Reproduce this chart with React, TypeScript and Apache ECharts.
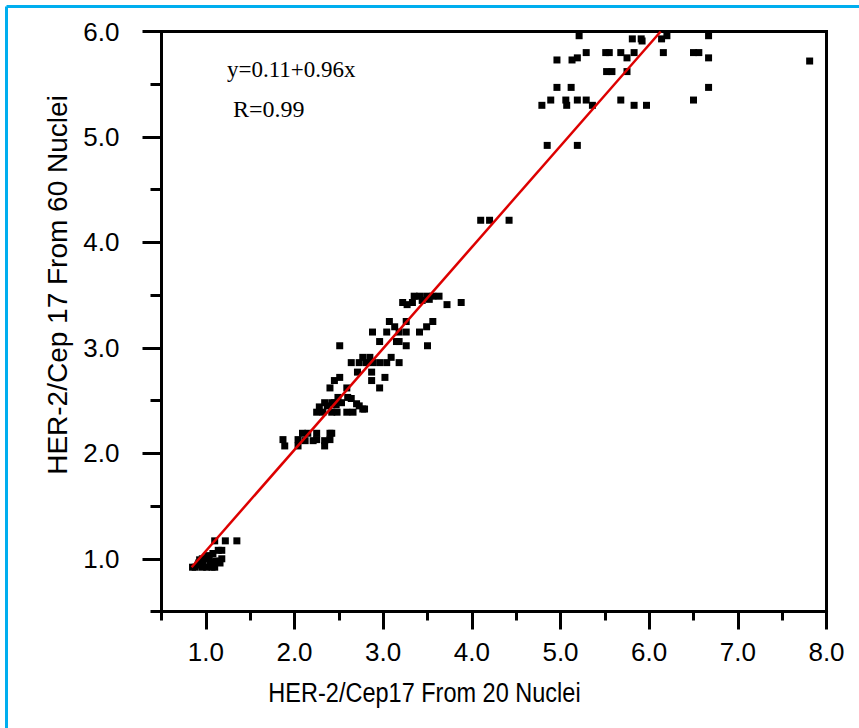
import React, { useEffect, useRef } from "react";
import * as echarts from "echarts";

// Axis tick values
const xMajorTicks = [1, 2, 3, 4, 5, 6, 7, 8];
const xMinorTicks = [0.5, 1.5, 2.5, 3.5, 4.5, 5.5, 6.5, 7.5];
const yMajorTicks = [1, 2, 3, 4, 5, 6];
const yMinorTicks = [0.5, 1.5, 2.5, 3.5, 4.5, 5.5];

// Axis titles and annotation
const xTitle = "HER-2/Cep17 From 20 Nuclei";
const yTitle = "HER-2/Cep 17 From 60 Nuclei";
const fitEquation = "y=0.11+0.96x";
const fitR = "R=0.99";

// Data points [ratio from 20 nuclei, ratio from 60 nuclei]
const clusterLow = [
  [0.85, 0.92], [0.88, 0.92], [0.91, 0.94], [0.92, 0.96], [0.96, 0.92], [0.97, 0.96],
  [0.96, 1.0], [1.01, 0.92], [1.01, 1.0], [1.02, 1.03], [1.05, 0.97], [1.07, 0.92],
  [1.08, 1.05], [1.1, 0.92], [1.12, 0.98], [1.14, 1.08], [1.16, 0.96], [1.18, 1.08],
  [1.18, 1.0], [1.1, 1.17], [1.22, 1.17], [1.35, 1.17], [0.93, 0.99], [1.04, 1.01],
];

const clusterMid = [
  [1.87, 2.13], [1.89, 2.07], [2.04, 2.13], [2.04, 2.07], [2.09, 2.19], [2.12, 2.12],
  [2.15, 2.19], [2.21, 2.12], [2.25, 2.19], [2.25, 2.13], [2.34, 2.12], [2.34, 2.07],
  [2.4, 2.19], [2.4, 2.13], [2.42, 2.19],
  [2.25, 2.39], [2.32, 2.39], [2.42, 2.39], [2.48, 2.39], [2.59, 2.39], [2.66, 2.39],
  [2.77, 2.42], [2.79, 2.42], [2.28, 2.44], [2.34, 2.48], [2.37, 2.45], [2.42, 2.48],
  [2.45, 2.48], [2.47, 2.46], [2.53, 2.48], [2.7, 2.47], [2.73, 2.45],
  [2.49, 2.53], [2.6, 2.53], [2.64, 2.52], [2.4, 2.62], [2.59, 2.62], [2.96, 2.62],
  [2.45, 2.69], [2.51, 2.72], [2.87, 2.69], [3.02, 2.72], [2.71, 2.77], [2.87, 2.77],
  [2.64, 2.86], [2.73, 2.86], [2.81, 2.86], [2.88, 2.86], [2.96, 2.86], [3.04, 2.86],
  [3.18, 2.86], [2.77, 2.91], [2.85, 2.91], [3.09, 2.91],
  [2.51, 3.02], [3.26, 3.02], [3.5, 3.02], [2.96, 3.06], [3.15, 3.06], [3.18, 3.06],
  [2.88, 3.15], [3.04, 3.15], [3.18, 3.15], [3.26, 3.15], [3.41, 3.15],
  [3.13, 3.2], [3.49, 3.2], [3.07, 3.25], [3.26, 3.25], [3.56, 3.25],
  [3.22, 3.43], [3.27, 3.41], [3.33, 3.43], [3.72, 3.41], [3.88, 3.43], [3.44, 3.45],
  [3.52, 3.46], [3.35, 3.49], [3.41, 3.49], [3.49, 3.49], [3.56, 3.49], [3.63, 3.49],
];

const clusterHigh = [
  [4.1, 4.21], [4.2, 4.21], [4.42, 4.21], [4.85, 4.92], [5.19, 4.92],
  [4.79, 5.3], [4.89, 5.35], [5.06, 5.35], [5.07, 5.3], [5.19, 5.35], [5.29, 5.35],
  [5.36, 5.3], [5.68, 5.35], [5.83, 5.3], [5.97, 5.3], [6.5, 5.35],
  [4.96, 5.47], [5.12, 5.47], [6.67, 5.47],
  [5.52, 5.62], [5.58, 5.62], [5.75, 5.62],
  [4.96, 5.73], [5.13, 5.73], [5.19, 5.75], [5.75, 5.75], [6.67, 5.75], [7.81, 5.72],
  [5.29, 5.8], [5.51, 5.8], [5.55, 5.8], [5.68, 5.8], [5.83, 5.8], [6.16, 5.8],
  [6.5, 5.8], [6.56, 5.8],
  [5.21, 5.96], [5.81, 5.93], [5.91, 5.93], [5.92, 5.91], [6.14, 5.93], [6.2, 5.96],
  [6.67, 5.96],
];

// Regression line end points
const fitLine = [
  [0.84, 0.92],
  [6.13, 6.0],
];

const SANS = "'Liberation Sans', Arial, sans-serif";
const SERIF = "'Liberation Serif', 'Times New Roman', serif";

export default function App() {
  const ref = useRef<HTMLDivElement>(null);

  useEffect(() => {
    const chart = echarts.init(ref.current!, null, { renderer: "svg" });
    const black = "#000";
    const tickStyle = { color: black, width: 3 };
    const baseX = {
      type: "value",
      min: 0.5,
      max: 8,
      gridIndex: 0,
      position: "bottom",
      splitLine: { show: false },
    };
    const baseY = {
      type: "value",
      min: 0.5,
      max: 6,
      gridIndex: 0,
      position: "left",
      splitLine: { show: false },
    };
    chart.setOption({
      animation: false,
      backgroundColor: "#fff",
      grid: {
        left: 161.5,
        right: 32.5,
        top: 31.5,
        bottom: 116.5,
        show: true,
        borderColor: black,
        borderWidth: 3,
        backgroundColor: "transparent",
      },
      xAxis: [
        {
          ...baseX,
          axisLine: { show: true, lineStyle: { color: black, width: 3 } },
          axisTick: { show: true, customValues: xMajorTicks, length: 18, lineStyle: tickStyle },
          axisLabel: {
            show: true,
            customValues: xMajorTicks,
            formatter: (v: number) => v.toFixed(1),
            margin: 27,
            color: black,
            fontSize: 26,
            fontFamily: SANS,
          },
        },
        {
          ...baseX,
          axisLine: { show: false },
          axisTick: { show: true, customValues: xMinorTicks, length: 9, lineStyle: tickStyle },
          axisLabel: { show: false },
        },
      ],
      yAxis: [
        {
          ...baseY,
          axisLine: { show: true, lineStyle: { color: black, width: 3 } },
          axisTick: { show: true, customValues: yMajorTicks, length: 19, lineStyle: tickStyle },
          axisLabel: {
            show: true,
            customValues: yMajorTicks,
            formatter: (v: number) => v.toFixed(1),
            margin: 42,
            color: black,
            fontSize: 26,
            fontFamily: SANS,
          },
        },
        {
          ...baseY,
          axisLine: { show: false },
          axisTick: { show: true, customValues: yMinorTicks, length: 11, lineStyle: tickStyle },
          axisLabel: { show: false },
        },
      ],
      series: [
        {
          type: "scatter",
          xAxisIndex: 0,
          yAxisIndex: 0,
          symbol: "rect",
          symbolSize: 7,
          itemStyle: { color: black, opacity: 1 },
          data: [...clusterLow, ...clusterMid, ...clusterHigh],
          z: 2,
        },
        {
          type: "line",
          xAxisIndex: 0,
          yAxisIndex: 0,
          data: fitLine,
          symbol: "none",
          lineStyle: { color: "#DD0000", width: 2.5 },
          z: 3,
        },
      ],
      graphic: [
        {
          type: "line",
          shape: { x1: 6.5, y1: 6.5, x2: 859, y2: 6.5 },
          style: { stroke: "#00AEEF", lineWidth: 3 },
        },
        {
          type: "line",
          shape: { x1: 6.5, y1: 6.5, x2: 6.5, y2: 728 },
          style: { stroke: "#00AEEF", lineWidth: 3 },
        },
        {
          type: "text",
          x: 57,
          y: 285,
          rotation: Math.PI / 2,
          style: {
            text: yTitle,
            fontSize: 28,
            fontFamily: SANS,
            fill: black,
            align: "center",
            verticalAlign: "middle",
          },
        },
        {
          type: "text",
          x: 424.5,
          y: 692,
          scaleX: 0.84,
          style: {
            text: xTitle,
            fontSize: 28,
            fontFamily: SANS,
            fill: black,
            align: "center",
            verticalAlign: "middle",
          },
        },
        {
          type: "text",
          x: 227,
          y: 69,
          style: {
            text: fitEquation,
            fontSize: 23,
            fontFamily: SERIF,
            fill: black,
            align: "left",
            verticalAlign: "middle",
          },
        },
        {
          type: "text",
          x: 233,
          y: 109,
          style: {
            text: fitR,
            fontSize: 24,
            fontFamily: SERIF,
            fill: black,
            align: "left",
            verticalAlign: "middle",
          },
        },
      ],
    });
    return () => chart.dispose();
  }, []);

  return (
    <div
      ref={ref}
      style={{ position: "fixed", left: 0, top: 0, width: 859, height: 728, background: "#fff" }}
    />
  );
}
